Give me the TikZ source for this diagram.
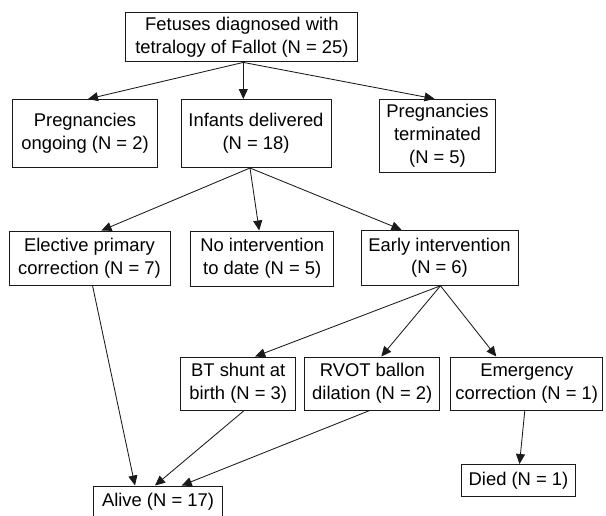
\documentclass[tikz,border=0pt]{standalone}
\usepackage{fontspec}
\setmainfont{Liberation Sans}
\usetikzlibrary{arrows.meta}
\definecolor{ink}{HTML}{1A1A1A}
\begin{document}
\begin{tikzpicture}[x=1pt,y=-1pt,
  box/.style={draw=ink,line width=1pt,inner sep=0pt,align=center,text=black,
    font=\fontsize{18.4}{22.8}\selectfont},
  conn/.style={draw=ink,line width=0.85pt,-{Triangle[length=10pt,width=9pt]}}]
\useasboundingbox (0,0) rectangle (606,515);
\node[box,minimum width=232pt,minimum height=49pt] (top) at (241.9,37.4) {Fetuses diagnosed with\\tetralogy of Fallot (N = 25)};
\node[box,minimum width=145pt,minimum height=68pt] (ong) at (85,133.5) {Pregnancies\\ongoing (N = 2)};
\node[box,minimum width=150pt,minimum height=68pt] (inf) at (256,133.5) {Infants delivered\\(N = 18)};
\node[box,minimum width=116pt,minimum height=73pt] (ter) at (437.5,135.8) {Pregnancies\\terminated\\(N = 5)};
\node[box,minimum width=161pt,minimum height=54pt] (ele) at (89.5,258) {Elective primary\\correction (N = 7)};
\node[box,minimum width=143pt,minimum height=55pt] (noi) at (262.2,258.5) {No intervention\\to date (N = 5)};
\node[box,minimum width=157pt,minimum height=55pt] (ear) at (439.5,257.8) {Early intervention\\(N = 6)};
\node[box,minimum width=115pt,minimum height=53pt] (bt) at (238.2,383.5) {BT shunt at\\birth (N = 3)};
\node[box,minimum width=135pt,minimum height=53pt] (rvot) at (372.3,383.5) {RVOT ballon\\dilation (N = 2)};
\node[box,minimum width=152pt,minimum height=53pt] (eme) at (526.8,383.5) {Emergency\\correction (N = 1)};
\node[box,minimum width=114pt,minimum height=32pt] (died) at (518.5,480.5) {Died (N = 1)};
\node[box,minimum width=129pt,minimum height=32pt] (alive) at (158,502) {Alive (N = 17)};
% level 1
\draw[conn] ([xshift=1.4pt]top.south) -- ([xshift=3pt]ong.north);
\draw[conn] ([xshift=1.4pt]top.south) -- ([xshift=1.4pt]top.south |- inf.north);
\draw[conn] ([xshift=1.4pt]top.south) -- ([xshift=-3pt]ter.north);
% level 2
\draw[conn] ([xshift=-6pt]inf.south) -- ([xshift=12pt]ele.north);
\draw[conn] ([xshift=-6pt]inf.south) -- ([xshift=-3pt]noi.north);
\draw[conn] ([xshift=-6pt]inf.south) -- ([xshift=-38pt]ear.north);
% level 3
\draw[conn] ([xshift=1pt]ear.south) -- ([xshift=17pt]bt.north);
\draw[conn] ([xshift=1pt]ear.south) -- ([xshift=9pt]rvot.north);
\draw[conn] ([xshift=1pt]ear.south) -- ([xshift=-30.5pt]eme.north);
% outcomes
\draw[conn] ([xshift=-2pt]eme.south) -- ([xshift=1pt]died.north);
\draw[conn] ([xshift=3pt]ele.south) -- ([xshift=-23pt]alive.north);
\draw[conn] ([xshift=6pt]bt.south) -- ([xshift=-3pt]alive.north);
\draw[conn] ([xshift=-2.6pt]rvot.south) -- ([xshift=23.7pt]alive.north);
\end{tikzpicture}
\end{document}
